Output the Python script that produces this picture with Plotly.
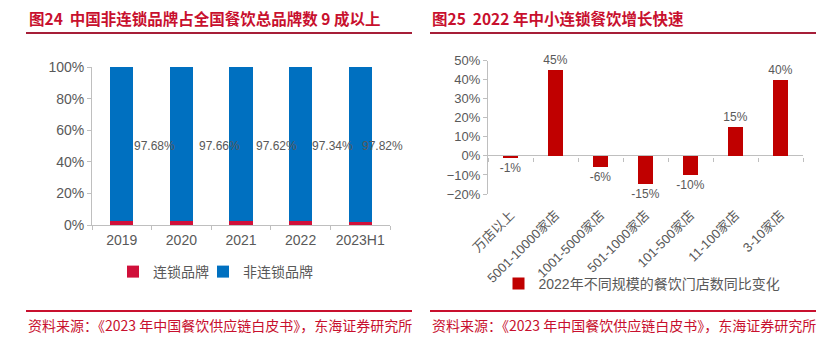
import plotly.graph_objects as go

# ---------------- data ----------------
years = ["2019", "2020", "2021", "2022", "2023H1"]
chain_share = [2.32, 2.34, 2.38, 2.66, 2.18]
nonchain_share = [97.68, 97.66, 97.62, 97.34, 97.82]
left_ticks = [0, 20, 40, 60, 80, 100]

scale_cats = ["万店以上", "5001-10000家店", "1001-5000家店", "501-1000家店",
              "101-500家店", "11-100家店", "3-10家店"]
yoy_change = [-1, 45, -6, -15, -10, 15, 40]

left_title = "<b>图24  中国非连锁品牌占全国餐饮总品牌数 9 成以上</b>"
right_title = "<b>图25  2022 年中小连锁餐饮增长快速</b>"
source_text = "资料来源：《2023 年中国餐饮供应链白皮书》，东海证券研究所"

# ---------------- style ----------------
W, H = 827, 350
RED_TXT = "#C8102E"
LINE_DARK = "#A61E38"
GRAY = "#595959"
AXIS = "#BFBFBF"
FONT = "Liberation Sans, Noto Sans CJK SC, sans-serif"
CJK = "Noto Sans CJK SC, sans-serif"
label_xshift = [33, 38, 35, 32, 22]


def px_x(p):
    return p / W


def px_y(p):
    return 1 - p / H


fig = go.Figure()

fig.add_trace(go.Bar(x=years, y=chain_share, name="连锁品牌", marker_color="#D0103A",
                     xaxis="x", yaxis="y", legend="legend", marker_line_width=0))
fig.add_trace(go.Bar(x=years, y=nonchain_share, name="非连锁品牌", marker_color="#0070C0",
                     xaxis="x", yaxis="y", legend="legend3", marker_line_width=0))

fig.add_trace(go.Bar(x=scale_cats, y=yoy_change, name="2022年不同规模的餐饮门店数同比变化",
                     marker_color="#C00000", marker_line_width=0, width=0.32,
                     xaxis="x2", yaxis="y2", legend="legend2",
                     text=[f"{v}%" for v in yoy_change], textposition="outside",
                     constraintext="none",
                     textfont=dict(family=FONT, size=12, color=GRAY), cliponaxis=False))
# invisible helper trace for the zero-line tick axis
fig.add_trace(go.Scatter(x=scale_cats, y=[0] * len(scale_cats), xaxis="x3", yaxis="y2",
                         mode="markers", marker=dict(opacity=0), showlegend=False,
                         hoverinfo="skip"))

# labels on the left chart (x given as category index)
for i, (c, n) in enumerate(zip(chain_share, nonchain_share)):
    fig.add_annotation(x=i, y=c + n / 2, xref="x", yref="y", text=f"{n:.2f}%",
                       showarrow=False, xshift=label_xshift[i], yshift=-2,
                       font=dict(family=FONT, size=12, color=GRAY))

dom_y1 = [px_y(225), px_y(67)]
dom_y2 = [px_y(194), px_y(60.7)]

legend_common = dict(orientation="h", yanchor="middle", itemwidth=30,
                     bgcolor="rgba(0,0,0,0)")

fig.update_layout(
    width=W, height=H, margin=dict(l=0, r=0, t=0, b=0, autoexpand=False),
    paper_bgcolor="white", plot_bgcolor="white",
    barmode="stack",
    font=dict(family=FONT, color=GRAY),
    xaxis=dict(domain=[px_x(92), px_x(390)], anchor="y", type="category",
               categoryorder="array", categoryarray=years, automargin=False,
               range=[-0.5, len(years) - 0.5],
               showline=True, linecolor=AXIS, tickangle=0, ticklabelstandoff=2,
               ticks="outside", tickson="boundaries", ticklen=4, tickcolor=AXIS,
               tickfont=dict(size=14, color=GRAY), showgrid=False),
    yaxis=dict(domain=dom_y1, anchor="x", range=[0, 100], tickmode="array",
               tickvals=left_ticks, ticktext=[f"{v}%" for v in left_ticks], automargin=False,
               showline=True, linecolor=AXIS, ticks="outside", ticklen=4,
               tickcolor=AXIS, showgrid=False, zeroline=False,
               tickfont=dict(size=14, color=GRAY)),
    xaxis2=dict(domain=[px_x(488), px_x(803)], anchor="y2", type="category",
                categoryorder="array", categoryarray=scale_cats, automargin=False,
                range=[-0.5, len(scale_cats) - 0.5],
                showline=False, ticks="", ticklabelstandoff=10,
                tickangle=-45, tickfont=dict(size=13, color=GRAY), showgrid=False),
    xaxis3=dict(domain=[px_x(488), px_x(803)], anchor="free", overlaying="x2",
                position=px_y(156.7), type="category", showline=False, ticks="outside",
                tickson="boundaries", automargin=False, range=[-0.5, len(scale_cats) - 0.5],
                ticklen=4, tickcolor=AXIS, showticklabels=False, showgrid=False,
                categoryorder="array", categoryarray=scale_cats),
    yaxis2=dict(domain=dom_y2, anchor="x2", range=[-20, 50], dtick=10, ticksuffix="%",
                automargin=False,
                showline=True, linecolor=AXIS, ticks="outside", ticklen=4, tickcolor=AXIS,
                showgrid=False, zeroline=True, zerolinecolor=AXIS, zerolinewidth=1,
                tickfont=dict(size=13, color=GRAY)),
    bargap=0.61,
    legend=dict(x=px_x(113), xanchor="left", y=px_y(272),
                font=dict(family=CJK, size=14, color=GRAY), **legend_common),
    legend3=dict(x=px_x(203), xanchor="left", y=px_y(272),
                 font=dict(family=CJK, size=14, color=GRAY), **legend_common),
    legend2=dict(x=px_x(642), xanchor="center", y=px_y(284),
                 font=dict(family=FONT, size=14, color=GRAY), **legend_common),
    showlegend=True,
)

# titles and sources
for xpx, title in [(27, left_title), (430, right_title)]:
    fig.add_annotation(x=px_x(xpx), y=px_y(18), xref="paper", yref="paper", text=title,
                       showarrow=False, xanchor="left", yanchor="middle",
                       font=dict(family=CJK, size=15.5, color=RED_TXT))
for xpx in [26, 430]:
    fig.add_annotation(x=px_x(xpx), y=px_y(325), xref="paper", yref="paper", text=source_text,
                       showarrow=False, xanchor="left", yanchor="middle",
                       font=dict(family=CJK, size=14, color=RED_TXT))

for x0, x1 in [(26, 412), (430, 816)]:
    fig.add_shape(type="line", xref="paper", yref="paper", x0=px_x(x0), x1=px_x(x1),
                  y0=px_y(33), y1=px_y(33), line=dict(color=LINE_DARK, width=2))
    fig.add_shape(type="line", xref="paper", yref="paper", x0=px_x(x0), x1=px_x(x1),
                  y0=px_y(311), y1=px_y(311), line=dict(color=RED_TXT, width=2))

fig.write_html("out.html")
